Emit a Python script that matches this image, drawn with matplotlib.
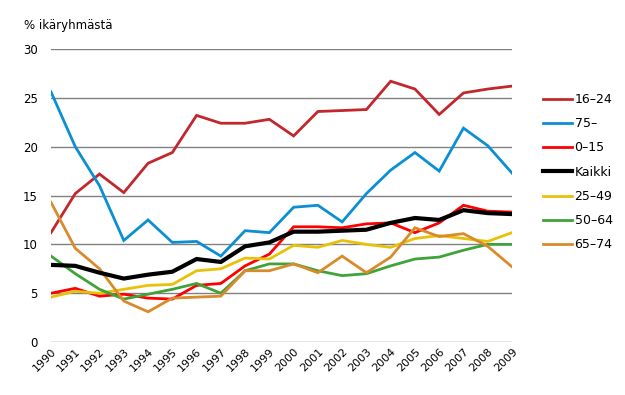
import numpy as np
import matplotlib
matplotlib.use("Agg")
import matplotlib.pyplot as plt

vuodet = list(range(1990, 2010))

ika_16_24 = [11.2, 15.2, 17.2, 15.3, 18.3, 19.4, 23.2, 22.4, 22.4, 22.8,
             21.1, 23.6, 23.7, 23.8, 26.7, 25.9, 23.3, 25.5, 25.9, 26.2]
ika_75 = [25.6, 20.0, 16.0, 10.4, 12.5, 10.2, 10.3, 8.8, 11.4, 11.2,
          13.8, 14.0, 12.3, 15.2, 17.6, 19.4, 17.5, 21.9, 20.1, 17.3]
ika_0_15 = [5.0, 5.5, 4.7, 4.9, 4.5, 4.4, 5.8, 6.0, 7.8, 9.0,
            11.8, 11.8, 11.7, 12.1, 12.2, 11.2, 12.2, 14.0, 13.4, 13.3]
kaikki = [7.9, 7.8, 7.1, 6.5, 6.9, 7.2, 8.5, 8.2, 9.8, 10.2,
          11.3, 11.3, 11.4, 11.5, 12.2, 12.7, 12.5, 13.5, 13.2, 13.1]
ika_25_49 = [4.6, 5.2, 5.0, 5.4, 5.8, 5.9, 7.3, 7.5, 8.6, 8.5,
             9.9, 9.7, 10.4, 10.0, 9.7, 10.6, 10.9, 10.6, 10.3, 11.2]
ika_50_64 = [8.8, 7.0, 5.4, 4.4, 4.9, 5.4, 6.0, 5.0, 7.3, 8.0,
             8.0, 7.3, 6.8, 7.0, 7.8, 8.5, 8.7, 9.4, 10.0, 10.0]
ika_65_74 = [14.3, 9.6, 7.5, 4.2, 3.1, 4.5, 4.6, 4.7, 7.3, 7.3,
             8.0, 7.1, 8.8, 7.1, 8.7, 11.7, 10.8, 11.1, 9.8, 7.7]

sarjat = [
    ("16\u201324", ika_16_24, "#C1272D", 2.0),
    ("75\u2013", ika_75, "#0B8FD3", 2.0),
    ("0\u201315", ika_0_15, "#FF0000", 2.0),
    ("Kaikki", kaikki, "#000000", 3.0),
    ("25\u201349", ika_25_49, "#E8C10A", 2.0),
    ("50\u201364", ika_50_64, "#40A33A", 2.0),
    ("65\u201374", ika_65_74, "#D98B2B", 2.0),
]

fig = plt.figure(figsize=(6.25, 3.95), dpi=100)
ax = fig.add_axes([0.0816, 0.134, 0.7376, 0.742])

for nimi, arvot, vari, lw in sarjat:
    z = 4 if nimi == "Kaikki" else 3
    ax.plot(vuodet, arvot, color=vari, lw=lw, label=nimi, zorder=z,
            solid_joinstyle="miter")

ax.set_xlim(1990, 2009)
ax.set_ylim(0, 30)
ax.set_yticks(np.arange(0, 31, 5))
ax.set_xticks(vuodet)
ax.set_xticklabels([str(v) for v in vuodet], rotation=45, ha="right",
                   rotation_mode="anchor", fontsize=8)
ax.tick_params(axis="y", labelsize=8.5, length=0, pad=9.5)
ax.tick_params(axis="x", length=0, pad=3)
ax.grid(axis="y", color="#808080", lw=1.0)
ax.set_axisbelow(True)
for s in ax.spines.values():
    s.set_visible(False)

fig.text(0.038, 0.918, "% ikäryhmästä", fontsize=8.5, ha="left", va="bottom")

ax.legend(loc="upper left", bbox_to_anchor=(1.057, 0.867), frameon=False,
          fontsize=9, handlelength=2.3, handletextpad=0.2, labelspacing=0.9,
          borderaxespad=0)

plt.savefig("out.png", dpi=100)
